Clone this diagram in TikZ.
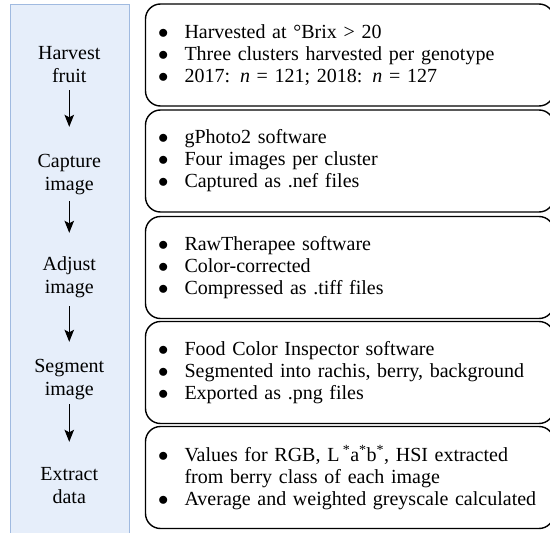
\documentclass[tikz,border=0pt]{standalone}
\usepackage{fontspec}
\setmainfont{Liberation Serif}
\usetikzlibrary{arrows.meta}
\definecolor{panelfill}{RGB}{230,238,250}
\definecolor{paneldraw}{RGB}{160,186,224}
\newcommand\bul{\makebox[25pt][l]{\hspace{-1.5pt}$\bullet$}}
\begin{document}
\begin{tikzpicture}[x=1pt,y=-1pt,
  box/.style={draw=black, line width=1.4pt, rounded corners=15pt,
    minimum width=408.5pt, minimum height=102pt, text width=380.5pt,
    inner xsep=14pt, inner ysep=0pt, align=left,
    font=\fontsize{20}{22}\selectfont},
  lab/.style={align=center, inner sep=0pt, font=\fontsize{20}{23}\selectfont},
  flow/.style={-{Stealth[length=12pt,width=9.5pt,inset=2.5pt]}, line width=1.3pt}]
\useasboundingbox (0,0) rectangle (550,533);
\clip (0,0) rectangle (550,533);
\node[draw=paneldraw, fill=panelfill, line width=0.8pt, minimum width=119.5pt,
  minimum height=545pt, anchor=north west, inner sep=0pt] (panel) at (9.5,4) {};
% boxes
\node[box] (b1) at (349.75,55) {\bul Harvested at °Brix > 20\\
  \bul Three clusters harvested per genotype\\
  \bul 2017: \textit{n} = 121; 2018: \textit{n} = 127};
\node[box] (b2) at (349.75,161) {\bul gPhoto2 software\\
  \bul Four images per cluster\\
  \bul Captured as .nef files};
\node[box] (b3) at (349.75,267.5) {\bul RawTherapee software\\
  \bul Color-corrected\\
  \bul Compressed as .tiff files};
\node[box] (b4) at (349.75,372.5) {\bul Food Color Inspector software\\
  \bul Segmented into rachis, berry, background\\
  \bul Exported as .png files};
\node[box] (b5) at (349.75,477.5) {\bul Values for RGB, L\,\textsuperscript{*}a\textsuperscript{*}b\textsuperscript{*}, HSI extracted\\
  \hspace*{25pt}from berry class of each image\\
  \bul Average and weighted greyscale calculated};
% labels
\node[lab] (l1) at (69.25,66) {\strut Harvest\\ fruit\strut};
\node[lab] (l2) at (69.25,174) {\strut Capture\\ image\strut};
\node[lab] (l3) at (69.25,277) {\strut Adjust\\ image\strut};
\node[lab] (l4) at (69.25,379) {\strut Segment\\ image\strut};
\node[lab] (l5) at (69.25,487) {\strut Extract\\ data\strut};
% arrows
\draw[flow, shorten <=1pt, shorten >=24pt] (l1) -- (l2);
\draw[flow, shorten <=4pt, shorten >=21pt] (l2) -- (l3);
\draw[flow, shorten <=6pt, shorten >=14pt] (l3) -- (l4);
\draw[flow, shorten <=2pt, shorten >=22pt] (l4) -- (l5);
\end{tikzpicture}
\end{document}
